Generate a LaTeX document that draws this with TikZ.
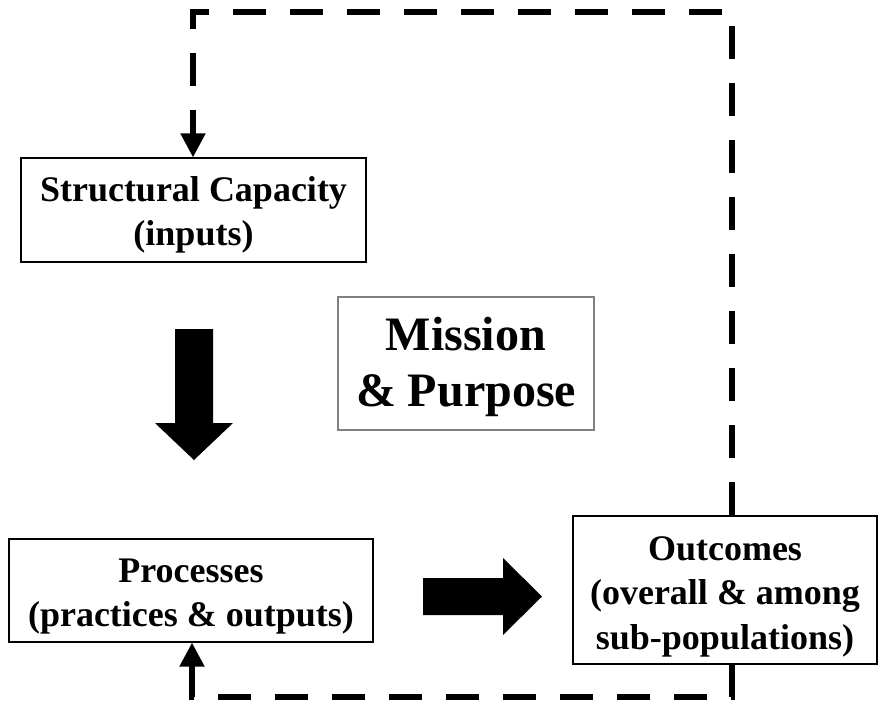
\documentclass[tikz,border=0pt]{standalone}
\usepackage{fontspec}
\setmainfont{Liberation Serif}
\usetikzlibrary{arrows.meta}
% centred multi-line text, drawn a little lower than its nominal box
\newcommand\boxtext[2][3.75pt]{\raisebox{-#1}[\height][\depth]{\begin{tabular}{@{}c@{}}#2\end{tabular}}}
\begin{document}
\begin{tikzpicture}[x=0.75pt,y=-0.75pt,
  box/.style={draw=black,line width=1pt,inner sep=0pt,
    font=\fontsize{27pt}{33pt}\selectfont\bfseries},
  bigbox/.style={draw=black!50,line width=1pt,inner sep=0pt,
    font=\fontsize{36pt}{42pt}\selectfont\bfseries},
  loopline/.style={line width=3.9pt,dash pattern=on 24.75pt off 18pt,
    -{Triangle[width=18pt,length=18pt]}},
  blockarrow/.style={fill=black,draw=none}]
\useasboundingbox (0,0) rectangle (878,704);

% boxes
\node[box,minimum width=258.75pt,minimum height=78pt] (struct) at (193.5,210)
  {\boxtext{Structural Capacity\\(inputs)}};
\node[bigbox,minimum width=192pt,minimum height=99.75pt] (mission) at (466,363.5)
  {\boxtext[3pt]{Mission\\\& Purpose}};
\node[box,minimum width=273pt,minimum height=77.25pt] (proc) at (191,590.5)
  {\boxtext{Processes\\(practices \& outputs)}};
\node[box,minimum width=228pt,minimum height=111pt,
  font=\fontsize{27pt}{33.5pt}\selectfont\bfseries] (outc) at (725,590)
  {\boxtext[4.5pt]{Outcomes\\(overall \& among\\sub-populations)}};

% block arrows
\fill[blockarrow] (175,329) -- (213,329) -- (213,423) -- (233,423) -- (194,460)
  -- (155,423) -- (175,423) -- cycle;
\fill[blockarrow] (423,578) -- (503,578) -- (503,558) -- (542,596.5) -- (503,635)
  -- (503,615) -- (423,615) -- cycle;

% feedback loops
\coordinate (tr) at (732,12);
\coordinate (tl) at (193,12);
\coordinate (br) at (732,697);
\coordinate (bl) at (192,697);
\draw[loopline] (outc.north -| tr) -- (tr) -- (tl) -- (struct.north -| tl);
\draw[loopline] (outc.south -| br) -- (br) -- (bl) -- (proc.south -| bl);
\end{tikzpicture}
\end{document}
